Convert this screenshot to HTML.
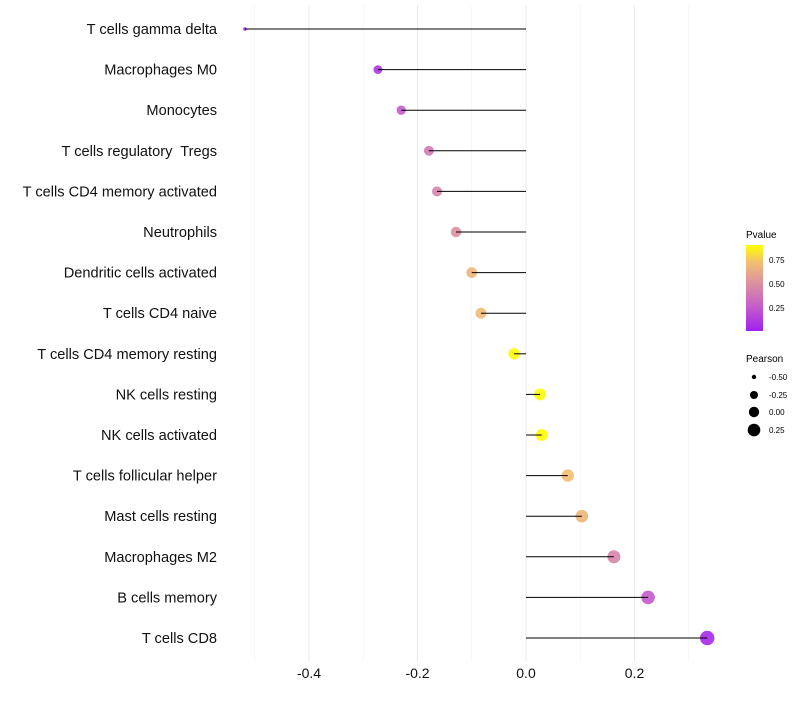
<!DOCTYPE html>
<html><head><meta charset="utf-8"><style>
body{margin:0;background:#fff;font-family:"Liberation Sans",sans-serif}
svg text{font-family:"Liberation Sans",sans-serif}
</style></head><body>
<svg id="chart" width="800" height="700">
<defs><linearGradient id="pg" x1="0" y1="1" x2="0" y2="0">
<stop offset="0" stop-color="#A020F0"/><stop offset="0.3" stop-color="#C860C8"/><stop offset="0.55" stop-color="#DB8FA0"/><stop offset="0.8" stop-color="#F2C070"/><stop offset="1" stop-color="#FFFF00"/>
</linearGradient></defs>
<g id="grid"></g><g id="points"></g><g id="marks"></g><g id="axes"></g>
<g>
<text x="746" y="238" font-size="10">Pvalue</text>
<rect x="746" y="245" width="17" height="86" fill="url(#pg)"/>
<text x="769" y="263" font-size="8">0.75</text>
<text x="769" y="287" font-size="8">0.50</text>
<text x="769" y="311" font-size="8">0.25</text>
</g>
<g>
<text x="746" y="362" font-size="10">Pearson</text>
<circle cx="754" cy="377" r="2.2" fill="#000"/><text x="769" y="380" font-size="8">-0.50</text>
<circle cx="754" cy="395" r="4" fill="#000"/><text x="769" y="398" font-size="8">-0.25</text>
<circle cx="754" cy="412" r="5.2" fill="#000"/><text x="769" y="415" font-size="8">0.00</text>
<circle cx="754" cy="430" r="6.3" fill="#000"/><text x="769" y="433" font-size="8">0.25</text>
</g>
</svg>
<script>
const categories=["T cells gamma delta","Macrophages M0","Monocytes","T cells regulatory  Tregs","T cells CD4 memory activated","Neutrophils","Dendritic cells activated","T cells CD4 naive","T cells CD4 memory resting","NK cells resting","NK cells activated","T cells follicular helper","Mast cells resting","Macrophages M2","B cells memory","T cells CD8"];
const pearson=[-0.518,-0.273,-0.230,-0.179,-0.164,-0.129,-0.100,-0.083,-0.022,0.026,0.029,0.077,0.103,0.162,0.225,0.334];
const pvalue=[0.02,0.1,0.25,0.4,0.45,0.5,0.68,0.7,0.9,0.9,0.9,0.72,0.68,0.45,0.25,0.05];
const xTicks=[-0.4,-0.2,0.0,0.2];
const xTickLabels=["-0.4","-0.2","0.0","0.2"];
const minorTicks=[-0.5,-0.3,-0.1,0.1,0.3];
const NS="http://www.w3.org/2000/svg";
function x(v){return 526+v*542.5;}
function y(i){return 29+i*40.6;}
function r(v){const f=Math.max(0,(v+0.52)/0.854);return f<0.01?1.8:Math.sqrt(6+f*(52-6));}
const stops=[[0,[160,32,240]],[0.3,[200,96,200]],[0.55,[219,143,160]],[0.8,[242,192,112]],[1,[255,255,0]]];
function col(p){let t=Math.max(0,Math.min(1,(p-0.01)/0.9));for(let k=1;k<stops.length;k++){if(t<=stops[k][0]){const a=stops[k-1],b=stops[k],f=(t-a[0])/(b[0]-a[0]);return "rgb("+a[1].map((c,j)=>Math.round(c+(b[1][j]-c)*f)).join(",")+")";}}return "rgb(255,255,0)";}
function mk(tag,at,parent){const e=document.createElementNS(NS,tag);for(const k in at)e.setAttribute(k,at[k]);document.getElementById(parent).appendChild(e);return e;}
minorTicks.forEach(v=>{const l=mk("line",{x1:x(v),x2:x(v),y1:5,y2:662,stroke:"#f3f3f3","stroke-width":0.6},"grid");

});
xTicks.forEach((v,i)=>{const l=mk("line",{x1:x(v),x2:x(v),y1:5,y2:662,stroke:"#ebebeb","stroke-width":1},"grid");


const t=mk("text",{x:x(v),y:678,"font-size":14,"text-anchor":"middle",fill:"#111"},"axes");t.textContent=xTickLabels[i];

});
categories.forEach((c,i)=>{const t=mk("text",{x:217,y:y(i)+5,"font-size":14.6,"text-anchor":"end",fill:"#111"},"axes");t.textContent=c;t.style.whiteSpace="pre";


const p=mk("circle",{cx:x(pearson[i]),cy:y(i),r:r(pearson[i]),fill:col(pvalue[i]),"fill-opacity":0.9},"points");


const l=mk("line",{x1:x(0),x2:x(pearson[i]),y1:y(i),y2:y(i),stroke:"#000","stroke-width":1},"marks");

});
</script>
</body></html>
